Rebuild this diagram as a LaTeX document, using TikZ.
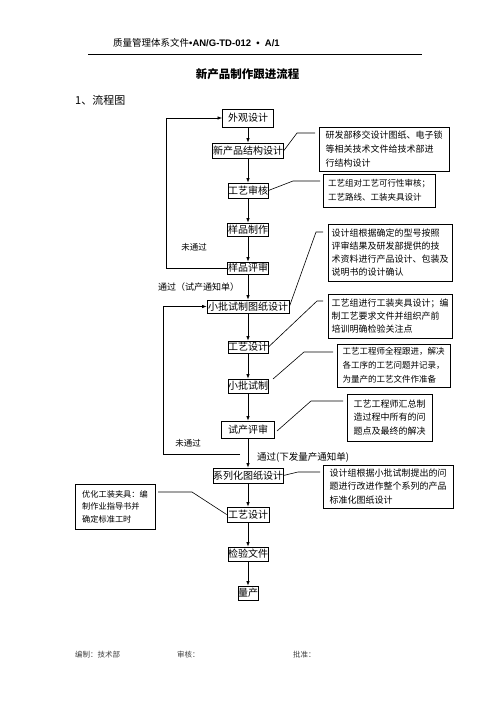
\documentclass[tikz,border=0pt]{standalone}
\usepackage{fontspec}
\setmainfont{Liberation Serif}
\newfontfamily\cjk{Noto Sans CJK SC}
\newfontfamily\hdsans{Liberation Sans}
\usetikzlibrary{arrows.meta}
\begin{document}
\begin{tikzpicture}[x=1pt,y=-1pt,
  mainbox/.style={draw, line width=0.8pt, inner sep=0pt, font=\cjk\fontsize{10}{12}\selectfont},
  note/.style={draw, line width=0.8pt, inner sep=0pt, align=left},
  lbl/.style={inner sep=0pt, font=\cjk\fontsize{8.5}{10}\selectfont},
  conn/.style={line width=0.6pt},
  arr/.style={line width=0.7pt, -{Latex[length=4.5pt,width=3.5pt]}}
]
\useasboundingbox (0,0) rectangle (496,702);

% header
\node[anchor=west, inner sep=0pt, font=\fontsize{9.5}{11}\selectfont] (hdr) at (113,43)
  {{\cjk 质量管理体系文件}{\hdsans\bfseries •AN/G-TD-012 \ • \ A/1}};
\coordinate (hl1) at (88,54);
\coordinate (hl2) at (422,54);
\draw[line width=0.8pt] (hl1) -- (hl2);
\node[inner sep=0pt, font=\cjk\bfseries\fontsize{11.5}{14}\selectfont] (title) at (247.5,74) {新产品制作跟进流程};
\node[anchor=west, inner sep=0pt, font=\cjk\fontsize{11}{13}\selectfont] (sec) at (75,100) {1、流程图};

% main column
\node[mainbox, minimum width=51pt, minimum height=18pt] (wg) at (248,118) {外观设计};
\node[mainbox, minimum width=71pt, minimum height=15pt] (jg) at (248,150.5) {新产品结构设计};
\node[mainbox, minimum width=40pt, minimum height=15pt] (sh) at (248,190.5) {工艺审核};
\node[mainbox, minimum width=41pt, minimum height=13pt] (zz) at (248,229.5) {样品制作};
\node[mainbox, minimum width=41pt, minimum height=12pt] (ps) at (248,268) {样品评审};
\node[mainbox, minimum width=82pt, minimum height=13pt] (tz) at (248,306.5) {小批试制图纸设计};
\node[mainbox, minimum width=40pt, minimum height=12pt] (gy1) at (248,347) {工艺设计};
\node[mainbox, minimum width=40pt, minimum height=14pt] (sz) at (248,386) {小批试制};
\node[mainbox, minimum width=53pt, minimum height=17pt] (cp) at (248,429.5) {试产评审};
\node[mainbox, minimum width=70pt, minimum height=15pt] (xl) at (248,475.5) {系列化图纸设计};
\node[mainbox, minimum width=42pt, minimum height=15pt] (gy2) at (248,514.5) {工艺设计};
\node[mainbox, minimum width=40pt, minimum height=14pt] (jy) at (248,554) {检验文件};
\node[mainbox, minimum width=20pt, minimum height=14pt] (lc) at (248,593) {量产};

\draw[arr] (wg) -- (jg);
\draw[arr] (jg) -- (sh);
\draw[arr] (sh) -- (zz);
\draw[arr] (zz) -- (ps);
\draw[arr] (ps) -- (tz);
\draw[arr] (tz) -- (gy1);
\draw[arr] (gy1) -- (sz);
\draw[arr] (sz) -- (cp);
\draw[arr] (cp) -- (xl);
\draw[arr] (xl) -- (gy2);
\draw[arr] (gy2) -- (jy);
\draw[arr] (jy) -- (lc);

% loops
\draw[arr] (ps.west) -- ++(-61,0) |- (wg.west);
\coordinate (l2s) at (240,454);
\draw[arr] (l2s) -- (163,454) |- (tz.west);

% labels
\node[lbl] (nt1) at (194,247) {未通过};
\node[lbl, font=\cjk\fontsize{9}{11}\selectfont] (tg1) at (198.5,287) {通过（试产通知单）};
\node[lbl] (nt2) at (188,443) {未通过};
\node[lbl, font=\cjk\fontsize{9.5}{11}\selectfont] (tg2) at (303,457) {通过(下发量产通知单)};

% notes
\node[note, minimum width=130pt, minimum height=44pt, font=\cjk\fontsize{9}{14}\selectfont] (n1) at (384,149)
  {研发部移交设计图纸、电子锁\\等相关技术文件给技术部进\\行结构设计};
\node[note, minimum width=112pt, minimum height=33pt, font=\cjk\fontsize{8.5}{14}\selectfont] (n2) at (379,190.5)
  {工艺组对工艺可行性审核；\\工艺路线、工装夹具设计};
\node[note, minimum width=124pt, minimum height=57pt, font=\cjk\fontsize{9}{13}\selectfont] (n3) at (390,252.5)
  {设计组根据确定的型号按照\\评审结果及研发部提供的技\\术资料进行产品设计、包装及\\说明书的设计确认};
\node[note, minimum width=124pt, minimum height=44pt, font=\cjk\fontsize{9}{13}\selectfont] (n4) at (390,316)
  {工艺组进行工装夹具设计；编\\制工艺要求文件并组织产前\\培训明确检验关注点};
\node[note, minimum width=113pt, minimum height=43pt, font=\cjk\fontsize{8.5}{14}\selectfont] (n5) at (393.5,365.5)
  {工艺工程师全程跟进，解决\\各工序的工艺问题并记录，\\为量产的工艺文件作准备};
\node[note, minimum width=85pt, minimum height=47pt, font=\cjk\fontsize{9}{13.5}\selectfont] (n6) at (389.5,417.5)
  {工艺工程师汇总制\\造过程中所有的问\\题点及最终的解决};
\node[note, minimum width=130pt, minimum height=43pt, font=\cjk\fontsize{9}{13.5}\selectfont] (n7) at (388,486.5)
  {设计组根据小批试制提出的问\\题进行改进作整个系列的产品\\标准化图纸设计};
\node[note, minimum width=80pt, minimum height=45pt, font=\cjk\fontsize{8.2}{12.5}\selectfont] (n8) at (115,506.5)
  {优化工装夹具：编\\制作业指导书并\\确定标准工时};

% note connectors
\coordinate (c1a) at (297,133); \coordinate (c1b) at (315,133);
\draw[conn] (jg.east) -- (c1a) -- (c1b);
\coordinate (c2a) at (293,181); \coordinate (c2b) at (320,181);
\draw[conn] (sh.east) -- (c2a) -- (c2b);
\coordinate (c3a) at (316,232); \coordinate (c3b) at (323,232);
\draw[conn] (tz.east) -- (c3a) -- (c3b);
\coordinate (c4a) at (317,301); \coordinate (c4b) at (323,301);
\draw[conn] (gy1.east) -- (c4a) -- (c4b);
\coordinate (c5s) at (273,379); \coordinate (c5a) at (304,352); \coordinate (c5b) at (333,352);
\draw[conn] (c5s) -- (c5a) -- (c5b);
\coordinate (c6s) at (277,431); \coordinate (c6a) at (311,401); \coordinate (c6b) at (343,401);
\draw[conn] (c6s) -- (c6a) -- (c6b);
\coordinate (c7a) at (298,472); \coordinate (c7b) at (320,472);
\draw[conn] (xl.east) -- (c7a) -- (c7b);
\coordinate (c8a) at (192,492); \coordinate (c8b) at (158,492);
\draw[conn] (gy2.west) -- (c8a) -- (c8b);

% footer
\node[anchor=west, inner sep=0pt, text=black!75, font=\cjk\fontsize{7.5}{9}\selectfont] (f1) at (75,655) {编制：技术部};
\node[anchor=west, inner sep=0pt, text=black!75, font=\cjk\fontsize{7.5}{9}\selectfont] (f2) at (177,655) {审核：};
\node[anchor=west, inner sep=0pt, text=black!75, font=\cjk\fontsize{7.5}{9}\selectfont] (f3) at (293,655) {批准：};
\end{tikzpicture}
\end{document}
